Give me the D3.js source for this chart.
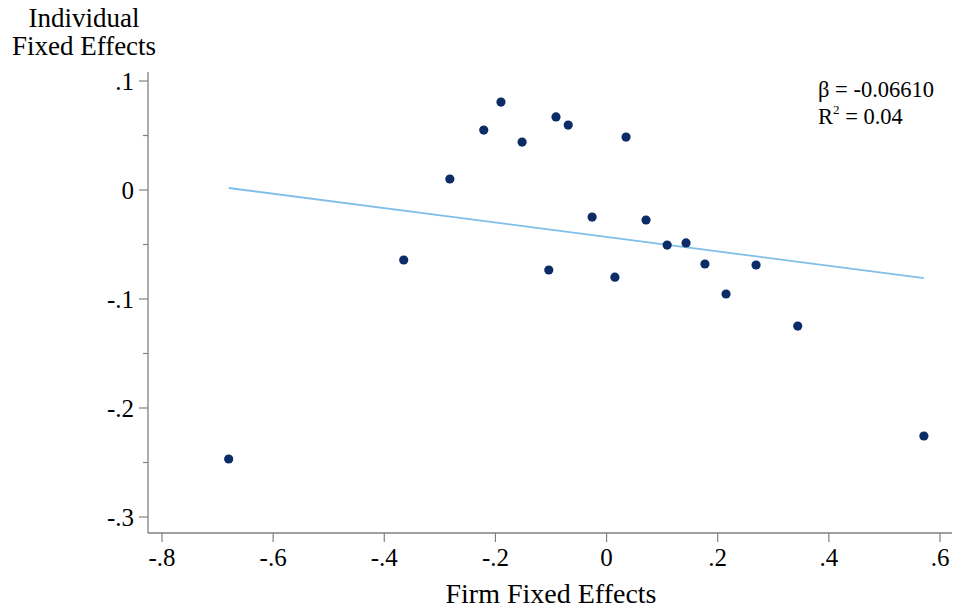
<!DOCTYPE html>
<html><head><meta charset="utf-8">
<script src="https://cdn.jsdelivr.net/npm/d3@7"></script>
<style>body{margin:0;background:#fff}svg{display:block}text{font-family:"Liberation Serif","Times New Roman",serif;fill:#000}</style>
</head><body><svg id="c" width="964" height="610"></svg>
<script>
const firmFE = [-0.680,-0.365,-0.282,-0.221,-0.190,-0.152,-0.104,-0.091,-0.069,-0.026,0.015,0.035,0.071,0.109,0.143,0.177,0.215,0.269,0.344,0.571];
const indivFE = [-0.2468,-0.0642,0.0101,0.0550,0.0807,0.0440,-0.0734,0.0670,0.0596,-0.0248,-0.0800,0.0486,-0.0275,-0.0505,-0.0486,-0.0679,-0.0954,-0.0688,-0.1248,-0.2257];
const beta = -0.06610;
const intercept = -0.0431;
const r2 = "0.04";
const xTicks = [-0.8,-0.6,-0.4,-0.2,0,0.2,0.4,0.6];
const xTickLabels = ["-.8","-.6","-.4","-.2","0",".2",".4",".6"];
const yTicks = [0.1,0,-0.1,-0.2,-0.3];
const yTickLabels = [".1","0","-.1","-.2","-.3"];
const yMinor = [0.05,-0.05,-0.15,-0.25];

const svg = d3.select("#c");
const x = d3.scaleLinear().domain([-0.8,0.6]).range([162,940]);
const y = d3.scaleLinear().domain([-0.3,0.1]).range([517,81]);
const axisColor = "#808080";
const x0 = 148, yb = 533;

svg.append("line").attr("x1",x0).attr("x2",x0).attr("y1",72).attr("y2",yb).attr("stroke",axisColor).attr("stroke-width",1.3);
svg.append("line").attr("x1",x0).attr("x2",952).attr("y1",yb).attr("y2",yb).attr("stroke",axisColor).attr("stroke-width",1.3);

const gy = svg.append("g");
yTicks.forEach((t,i)=>{
  gy.append("line").attr("x1",x0-9).attr("x2",x0).attr("y1",y(t)).attr("y2",y(t)).attr("stroke",axisColor).attr("stroke-width",1.2);
  gy.append("text").attr("x",x0-14).attr("y",y(t)).attr("dy","0.35em").attr("text-anchor","end").attr("font-size",25).text(yTickLabels[i]);
});
yMinor.forEach(t=>{
  gy.append("line").attr("x1",x0-5).attr("x2",x0).attr("y1",y(t)).attr("y2",y(t)).attr("stroke",axisColor).attr("stroke-width",1.2);
});
const gx = svg.append("g");
xTicks.forEach((t,i)=>{
  gx.append("line").attr("x1",x(t)).attr("x2",x(t)).attr("y1",yb).attr("y2",yb+9).attr("stroke",axisColor).attr("stroke-width",1.2);
  gx.append("text").attr("x",x(t)).attr("y",566).attr("text-anchor","middle").attr("font-size",25).text(xTickLabels[i]);
});

const xe = d3.extent(firmFE);
svg.append("line").attr("x1",x(xe[0])).attr("x2",x(xe[1]))
  .attr("y1",y(intercept+beta*xe[0])).attr("y2",y(intercept+beta*xe[1]))
  .attr("stroke","#80bfea").attr("stroke-width",1.8);

svg.append("g").selectAll("circle").data(firmFE).join("circle")
  .attr("cx",d=>x(d)).attr("cy",(d,i)=>y(indivFE[i])).attr("r",4.6).attr("fill","#0b2c66");

svg.append("text").attr("x",551).attr("y",603).attr("text-anchor","middle").attr("font-size",28).text("Firm Fixed Effects");
svg.append("text").attr("x",84).attr("y",27).attr("text-anchor","middle").attr("font-size",27).text("Individual");
svg.append("text").attr("x",84).attr("y",55).attr("text-anchor","middle").attr("font-size",27).text("Fixed Effects");

svg.append("text").attr("x",818).attr("y",97).attr("font-size",22.5).text("\u03B2 = " + beta.toFixed(5));
const r = svg.append("text").attr("x",818).attr("y",124).attr("font-size",22.5);
r.append("tspan").text("R");
r.append("tspan").attr("font-size",13).attr("dy",-10).text("2");
r.append("tspan").attr("dy",10).text(" = " + r2);
</script></body></html>
